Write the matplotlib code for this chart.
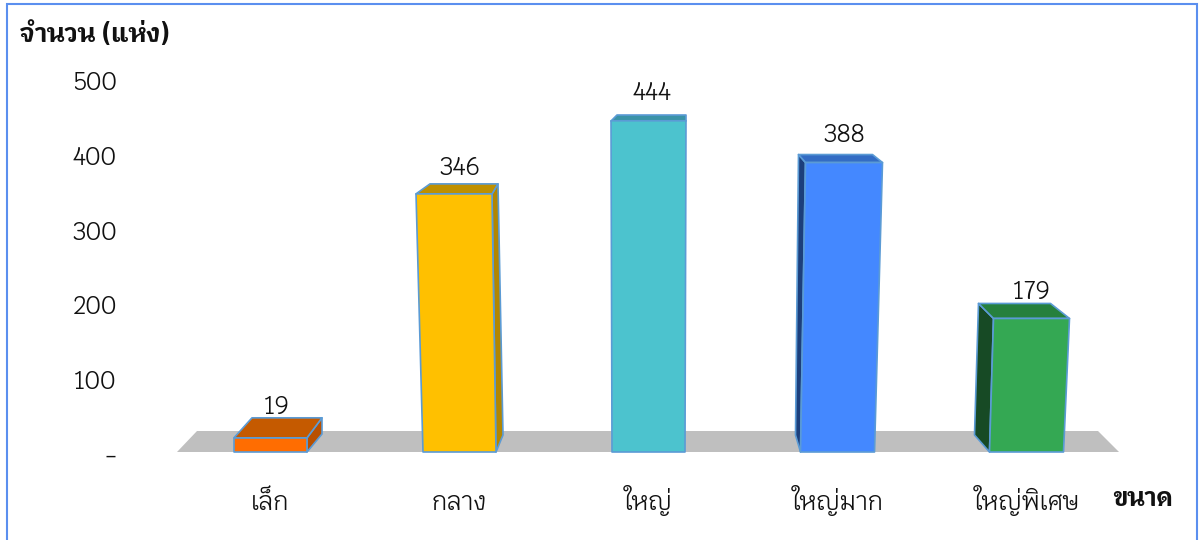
import matplotlib
matplotlib.use("Agg")
import matplotlib.pyplot as plt
from matplotlib.patches import Rectangle
from matplotlib.transforms import ScaledTranslation

plt.rcParams['font.family'] = ['Krub', 'DejaVu Sans']

categories = ["เล็ก", "กลาง", "ใหญ่", "ใหญ่มาก", "ใหญ่พิเศษ"]
values = [19, 346, 444, 388, 179]
y_ticks = [0, 100, 200, 300, 400, 500]
y_tick_labels = ["-", "100", "200", "300", "400", "500"]
y_title = "จำนวน (แห่ง)"
x_title = "ขนาด"

front_colors = ["#FF6D01", "#FFC000", "#4CC3CE", "#4488FF", "#34A853"]
top_colors = ["#C55A00", "#BF9000", "#3A93A8", "#336CC4", "#26803D"]
side_colors = ["#B85000", "#B38600", "#3A93A8", "#1C3F7C", "#174A25"]
edge_color = "#5B9BD5"

# perspective of each bar, in pixels
lean = [0, -5.5, 0, 6.5, 5]
half_bottom = [36.5, 36.5, 36.5, 37, 37]
half_top = [36.5, 38, 37.5, 38.5, 38]
back_left = [18, 14, 6, -7, -15]
back_right = [15, 6, 0, -10, -19]
back_up = [20, 10, 6, 8, 15]
foot_dx = [15, 7, 0, -5, -15]
foot_up = [18, 17, 0, 17, 17]
# value labels, pixels from the bar base centre and above the bar top
label_dx = [6.5, 0.5, 3.5, 6.5, 5.5]
label_gap = [11, 16, 22, 20, 12]

W, H = 1199, 540
fig = plt.figure(figsize=(W / 100, H / 100), dpi=100)
ax = fig.add_axes([125 / W, 1 - 452 / H, (1130 - 125) / W, 373 / H])
x0 = 270.5
step = 189.0
ax.set_xlim((125 - x0) / step, (1130 - x0) / step)
ax.set_ylim(0, 500)
px = 1 / step
py = 500 / 373

# grey floor
ax.fill([(177 - x0) * px, (197 - x0) * px, (1098 - x0) * px, (1119 - x0) * px],
        [0, 21 * py, 21 * py, 0], color="#BFBFBF", lw=0, zorder=1, clip_on=False)

for i, v in enumerate(values):
    bl = i - half_bottom[i] * px
    br = i + half_bottom[i] * px
    tl = i + (lean[i] - half_top[i]) * px
    tr = i + (lean[i] + half_top[i]) * px
    up = back_up[i] * py
    style = dict(edgecolor=edge_color, linewidth=1.2, joinstyle="round", zorder=2, clip_on=False)
    # side wall on the far side of the bar
    if foot_up[i] > 0:
        if foot_dx[i] > 0:
            ax.fill([br, tr, tr + back_right[i] * px, br + foot_dx[i] * px],
                    [0, v, v + up, foot_up[i] * py], facecolor=side_colors[i], **style)
        else:
            ax.fill([bl, tl, tl + back_left[i] * px, bl + foot_dx[i] * px],
                    [0, v, v + up, foot_up[i] * py], facecolor=side_colors[i], **style)
    ax.fill([tl, tr, tr + back_right[i] * px, tl + back_left[i] * px],
            [v, v, v + up, v + up], facecolor=top_colors[i], **style)
    ax.fill([bl, tl, tr, br], [0, v, v, 0], facecolor=front_colors[i], **style)
    ax.text(i + label_dx[i] * px, v + up + label_gap[i] * py, str(v),
            ha="center", va="center", fontsize=18, color="#111111", zorder=3, clip_on=False)

ax.set_xticks(range(len(categories)))
ax.set_xticklabels(categories, fontsize=18, color="#111111", va="baseline")
ax.set_yticks(y_ticks)
ax.set_yticklabels(y_tick_labels, fontsize=18, color="#111111")
ax.tick_params(axis="both", length=0)
ax.tick_params(axis="x", pad=42)
ax.tick_params(axis="y", pad=6)
# tick labels sit a little under their gridline position in the original
shift = ScaledTranslation(0, -1.5 / 100, fig.dpi_scale_trans)
for lab in ax.get_yticklabels():
    lab.set_transform(lab.get_transform() + shift)
for s in ax.spines.values():
    s.set_visible(False)
ax.patch.set_alpha(0)

fig.text(19 / W, 1 - 34 / H, y_title, fontsize=18.3, fontweight="bold", va="center", color="#111111")
fig.text(1112 / W, 1 - 499 / H, x_title, fontsize=18, fontweight="bold", va="center", color="#111111")

fig.add_artist(Rectangle((7 / W, -0.02), (1197 - 7) / W, 1.02 - 4 / H, transform=fig.transFigure,
                         fill=False, edgecolor="#5B8FEF", linewidth=1.5))

fig.savefig("out.png", dpi=100)
